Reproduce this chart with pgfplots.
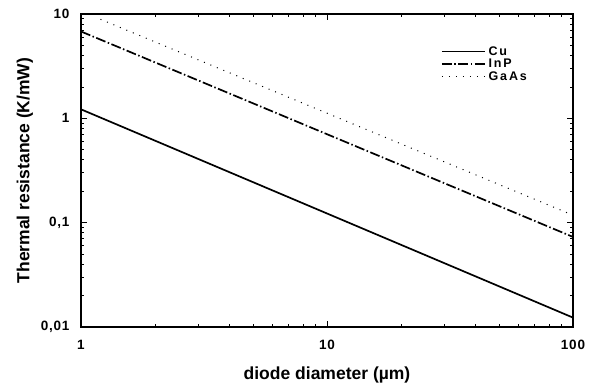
\documentclass[border=0pt]{standalone}
\usepackage{pgfplots}
\pgfplotsset{compat=1.18}
\usepackage{fontspec}
\setmainfont{Liberation Sans}
\newfontfamily\legfont[LetterSpace=15]{Liberation Sans}
\newfontfamily\tickfont[LetterSpace=6]{Liberation Sans}
\newcommand{\lf}{\legfont\bfseries\fontsize{12.5}{14}\selectfont}
\begin{document}
\begin{tikzpicture}
\useasboundingbox (-81pt,-60pt) rectangle (508pt,327pt);
\begin{axis}[
  at={(0,0)}, anchor=south west,
  scale only axis, width=492pt, height=313pt,
  xmode=log, ymode=log,
  xmin=1, xmax=100, ymin=0.01, ymax=10,
  tick align=inside, tick pos=both,
  major tick length=6pt, minor tick length=3pt,
  xtick={1,10,100}, xticklabels={1,10,100},
  ytick={0.01,0.1,1,10}, yticklabels={{0,01},{0,1},1,10},
  tick label style={font=\tickfont\bfseries\fontsize{13.5}{15}\selectfont},
  xticklabel style={yshift=-10pt},
  yticklabel style={xshift=-8pt},
  xlabel={diode diameter (µm)},
  ylabel={Thermal resistance (K/mW)},
  every axis x label/.style={at={(axis description cs:0.5,-0.152)}, anchor=center,
    font=\bfseries\fontsize{17.5}{20}\selectfont},
  every axis y label/.style={at={(axis description cs:-0.114,0.5)}, rotate=90, anchor=center,
    font=\bfseries\fontsize{17.5}{20}\selectfont},
  axis line style={line width=1.2pt},
  every tick/.style={line width=0.8pt, black},
  legend style={draw=none, fill=none, at={(rel axis cs:0.725,0.91)}, anchor=north west,
    row sep=-1.5pt, nodes={inner xsep=3pt, font=\lf}},
  legend cell align=left,
  legend image code/.code={\draw[#1] (0pt,0pt) -- (43pt,0pt);},
]
\addplot[black, line width=1.7pt] coordinates {(1,1.22) (100,0.0123)};
\addlegendentry{\lf Cu}
\addplot[black, line width=1.7pt, dash pattern=on 10pt off 2.5pt on 1.5pt off 2.5pt] coordinates {(1,6.8) (100,0.073)};
\addlegendentry{\lf InP}
\addplot[black, line width=1pt, dash pattern=on 1pt off 6pt] coordinates {(1.2,8.9) (100,0.118)};
\addlegendentry{\lf GaAs}
\end{axis}
\end{tikzpicture}
\end{document}
